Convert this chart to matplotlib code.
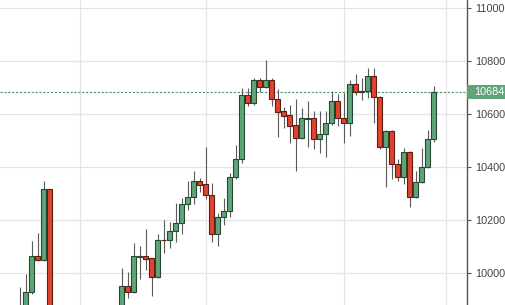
import numpy as np
import matplotlib
matplotlib.use('Agg')
import matplotlib.pyplot as plt
import matplotlib.transforms as mtransforms
from matplotlib.patches import Rectangle

plt.rcParams['font.family'] = ['Liberation Sans', 'DejaVu Sans']

# OHLC per session slot (nan = no data in that slot)
nan = np.nan
opens = [9800, 9840, 9927, 10063, 10048, 10317] + [nan] * 11 + [
    9840, 9951, 9927, 10062, 10064, 10056, 9984, 10125, 10124, 10158,
    10188, 10260, 10289, 10347, 10337, 10295, 10146, 10210, 10234, 10362,
    10430, 10672, 10642, 10730, 10702, 10730, 10657, 10612, 10596, 10559,
    10509, 10584, 10585, 10506, 10525, 10567, 10651, 10585, 10566, 10715,
    10684, 10688, 10745, 10667, 10475, 10538, 10411, 10362, 10459, 10289,
    10343, 10400, 10506]
highs = [9947, 9996, 10121, 10152, 10348, 10317] + [nan] * 11 + [
    10019, 10005, 10115, 10102, 10165, 10058, 10149, 10199, 10194, 10266,
    10285, 10349, 10386, 10360, 10475, 10342, 10228, 10283, 10377, 10484,
    10701, 10701, 10739, 10739, 10806, 10739, 10695, 10629, 10635, 10657,
    10625, 10652, 10613, 10613, 10613, 10689, 10676, 10680, 10730, 10753,
    10736, 10776, 10776, 10670, 10540, 10540, 10430, 10472, 10460, 10387,
    10472, 10541, 10707]
lows = [9780, 9830, 9920, 10045, 10045, 9760] + [nan] * 11 + [
    9830, 9907, 9925, 9978, 10011, 9914, 9980, 10074, 10095, 10118,
    10146, 10238, 10260, 10307, 10279, 10118, 10102, 10182, 10211, 10355,
    10415, 10632, 10635, 10683, 10700, 10632, 10515, 10550, 10493, 10387,
    10505, 10478, 10469, 10453, 10440, 10560, 10556, 10493, 10516, 10673,
    10654, 10663, 10566, 10470, 10324, 10356, 10349, 10337, 10248, 10285,
    10340, 10398, 10497]
closes = [9860, 9927, 10063, 10048, 10317, 9780] + [nan] * 11 + [
    9951, 9927, 10064, 10063, 10054, 9984, 10124, 10123, 10158, 10188,
    10260, 10289, 10348, 10334, 10295, 10146, 10212, 10234, 10362, 10430,
    10672, 10642, 10730, 10702, 10730, 10657, 10610, 10595, 10557, 10509,
    10585, 10586, 10506, 10525, 10567, 10650, 10585, 10566, 10715, 10683,
    10688, 10745, 10667, 10475, 10538, 10411, 10362, 10459, 10289, 10343,
    10400, 10506, 10684]

last_price = 10684
y_ticks = [10000, 10200, 10400, 10600, 10800, 11000]
x_grid = [10, 31, 54, 71]

UP = '#5fa47a'
UP_EDGE = '#27492f'
DOWN = '#e1432f'
DOWN_EDGE = '#5e1d14'
WICK = '#5a5a5a'

fig = plt.figure(figsize=(5.06, 3.05), dpi=100)
ax = fig.add_axes([0, 0, 467 / 506, 1])

width = 0.74
for i, (o, h, l, c) in enumerate(zip(opens, highs, lows, closes)):
    if np.isnan(o):
        continue
    up = c >= o
    ax.vlines(i, l, h, color=WICK, lw=0.8, zorder=2)
    bottom = min(o, c)
    height = max(abs(c - o), 1.5)
    ax.add_patch(Rectangle((i - width / 2, bottom), width, height,
                           facecolor=UP if up else DOWN,
                           edgecolor=UP_EDGE if up else DOWN_EDGE,
                           lw=0.8, zorder=3))

ax.set_xlim(-3.25, 74.58)
ax.set_ylim(9879, 11032)

# grid
ax.set_yticks(y_ticks)
ax.set_xticks(x_grid)
ax.set_xticklabels([])
ax.tick_params(axis='x', length=0)
ax.grid(True, color='#e4e4e4', lw=0.9, zorder=0)
ax.set_axisbelow(True)

# right price axis
for s in ['top', 'left', 'bottom']:
    ax.spines[s].set_visible(False)
ax.spines['right'].set_color('#555555')
ax.spines['right'].set_linewidth(1.0)
ax.yaxis.tick_right()
ax.tick_params(axis='y', direction='out', length=3, width=0.8,
               color='#555555', labelsize=7.8, labelcolor='#444444', pad=3)

# last price line and tag
ax.axhline(last_price, color='#4a9068', lw=0.8, ls=(0, (2, 1.5)), zorder=1)
trans = mtransforms.blended_transform_factory(fig.transFigure, ax.transData)
ax.add_patch(Rectangle((467 / 506, last_price - 26), 39 / 506, 52,
                       transform=trans, facecolor='#5fa47a',
                       edgecolor='none', clip_on=False, zorder=4))
ax.text(474 / 506, last_price, f'{last_price}', transform=trans,
        ha='left', va='center', fontsize=7.8, color='white', zorder=5,
        clip_on=False)

fig.savefig('out.png', dpi=100)
